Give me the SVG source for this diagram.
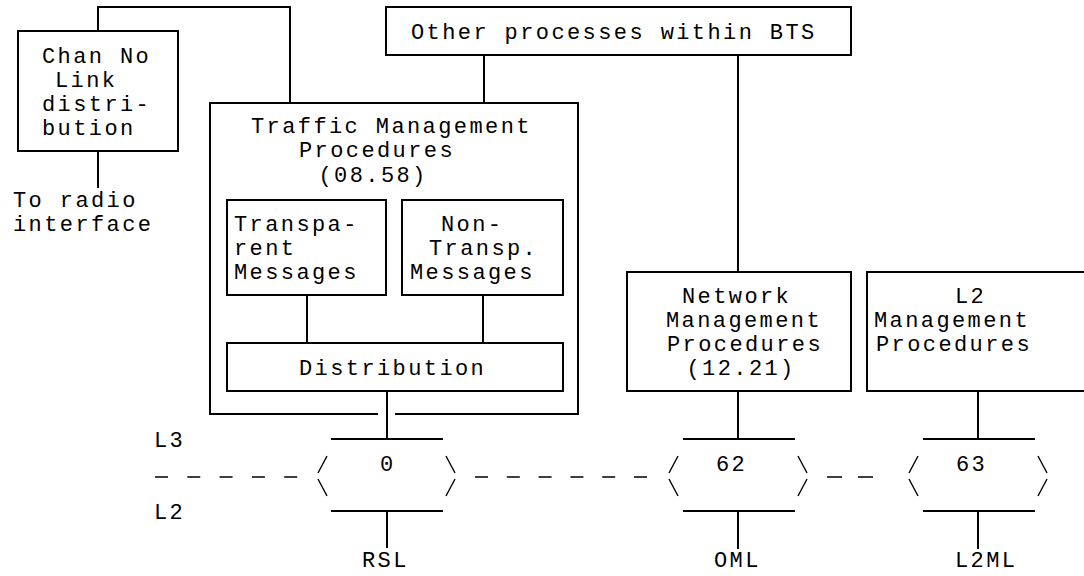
<svg xmlns="http://www.w3.org/2000/svg" width="1084" height="576" viewBox="0 0 1084 576">
<style>
.b{fill:none;stroke:#000;stroke-width:2}
.c{fill:none;stroke:#000;stroke-width:2}
.s{fill:none;stroke:#000;stroke-width:1.4}
.d{fill:none;stroke:#000;stroke-width:1.4}
text{font-family:"Liberation Mono","DejaVu Sans Mono",monospace;font-size:22px;letter-spacing:2.4px;fill:#000}
</style>
<rect width="1084" height="576" fill="#fff"/>
<g id="connectors">
<path class="c" d="M98,31 V7 H290 V103"/>
<path class="c" d="M98,151 V188"/>
<path class="c" d="M484,55 V103"/>
<path class="c" d="M738,55 V272"/>
<path class="c" d="M307,295 V343"/>
<path class="c" d="M483,295 V343"/>
<path class="c" d="M387,391 V439"/>
<path class="c" d="M387,511 V548"/>
<path class="c" d="M738,391 V439"/>
<path class="c" d="M738,511 V549"/>
<path class="c" d="M978,391 V439"/>
<path class="c" d="M978,511 V549"/>
<path class="d" d="M155,477 H298" stroke-dasharray="13 19.3"/>
<path class="d" d="M475,477 H652" stroke-dasharray="13 18.8"/>
<path class="d" d="M827,477 H875" stroke-dasharray="15 16"/>
</g>
<g id="chan">
<rect class="b" x="18" y="31" width="160" height="120"/>
<text x="42" y="63">Chan No</text>
<text x="55" y="87">Link</text>
<text x="42" y="111">distri-</text>
<text x="42" y="135">bution</text>
</g>
<g id="radio-label">
<text x="13" y="207">To radio</text>
<text x="13" y="231">interface</text>
</g>
<g id="other">
<rect class="b" x="386" y="7" width="465" height="48"/>
<text x="411" y="39">Other processes within BTS</text>
</g>
<g id="traffic">
<path class="b" d="M378,414 H210 V103 H578 V414 H395"/>
<text x="251" y="133">Traffic Management</text>
<text x="299" y="157">Procedures</text>
<text x="318.5" y="182">(08.58)</text>
</g>
<g id="transparent">
<rect class="b" x="227" y="200" width="159" height="95"/>
<text x="234" y="231">Transpa-</text>
<text x="234" y="255">rent</text>
<text x="234" y="279">Messages</text>
</g>
<g id="nontransparent">
<rect class="b" x="402" y="200" width="161" height="95"/>
<text x="441" y="231">Non-</text>
<text x="429" y="255">Transp.</text>
<text x="410" y="279">Messages</text>
</g>
<g id="distribution">
<rect class="b" x="227" y="343" width="336" height="48"/>
<text x="299" y="375">Distribution</text>
</g>
<g id="network">
<rect class="b" x="627" y="272" width="224" height="119"/>
<text x="682" y="303">Network</text>
<text x="666" y="327">Management</text>
<text x="667" y="351">Procedures</text>
<text x="686.5" y="375">(12.21)</text>
</g>
<g id="l2mgmt">
<rect class="b" x="867" y="272" width="230" height="119"/>
<text x="955" y="303">L2</text>
<text x="874" y="327">Management</text>
<text x="876" y="351">Procedures</text>
</g>
<g id="layer-labels">
<text x="154" y="447">L3</text>
<text x="154" y="519">L2</text>
</g>
<g id="link0">
<path class="b" d="M331,439 H443 M331,511 H443"/>
<path class="s" d="M327,456 L318,473 M318,479 L327,496 M446,456 L455,473 M455,479 L446,496"/>
<text x="380" y="471">0</text>
<text x="362" y="567">RSL</text>
</g>
<g id="link62">
<path class="b" d="M683,439 H795 M683,511 H795"/>
<path class="s" d="M678,456 L669,473 M669,479 L678,496 M798,456 L807,473 M807,479 L798,496"/>
<text x="716" y="471">62</text>
<text x="714" y="567">OML</text>
</g>
<g id="link63">
<path class="b" d="M923,439 H1035 M923,511 H1035"/>
<path class="s" d="M918,456 L909,473 M909,479 L918,496 M1038,456 L1047,473 M1047,479 L1038,496"/>
<text x="956" y="471">63</text>
<text x="955" y="567">L2ML</text>
</g>
</svg>
